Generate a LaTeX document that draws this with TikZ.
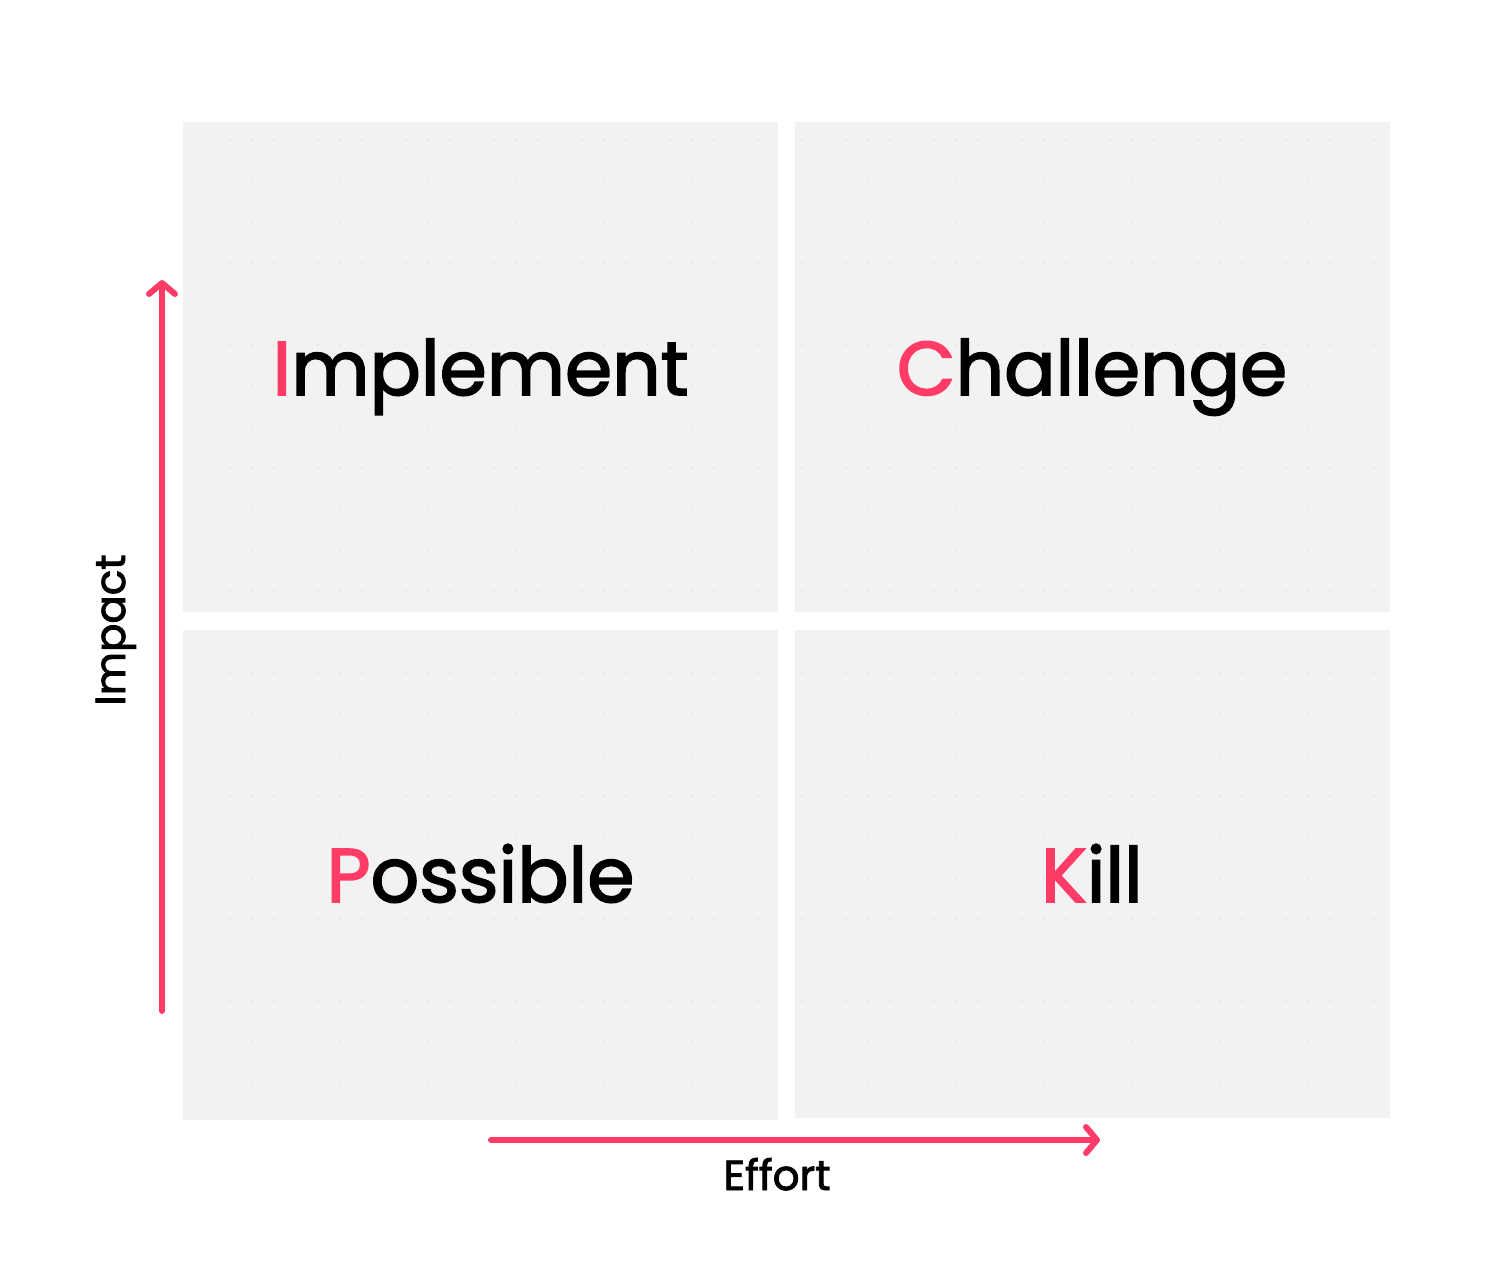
\documentclass[tikz,border=0pt]{standalone}
\usepackage{fontspec}
\setmainfont{Poppins}
\newfontfamily\qfont[FakeBold=2.2]{Poppins}
\newfontfamily\afont[FakeBold=2]{Poppins}
\usetikzlibrary{arrows.meta}
\definecolor{pinkc}{HTML}{FF3B66}
\definecolor{boxc}{HTML}{F2F2F2}
\definecolor{dotc}{HTML}{E6D6DA}
\tikzset{
  quad/.style={fill=boxc, draw=none},
  axisarrow/.style={draw=pinkc, line width=6pt, line cap=round, -{Straight Barb[length=11pt, width=26pt, line width=6pt, round]}},
  qlabel/.style={font=\qfont\fontsize{76}{90}\selectfont, text=black, inner sep=0pt, anchor=base},
  alabel/.style={font=\afont\fontsize{42}{48}\selectfont, text=black, inner sep=0pt, anchor=base}
}
\begin{document}
\begin{tikzpicture}[x=1pt,y=-1pt]
\useasboundingbox (0,0) rectangle (1496,1272);
\fill[white] (0,0) rectangle (1496,1272);
% quadrants
\path[quad] (183,122) rectangle (778,612);
\path[quad] (795,122) rectangle (1390,612);
\path[quad] (183,630) rectangle (778,1120);
\path[quad] (795,630) rectangle (1390,1118);
% faint dots
\foreach \x in {208,230,...,1380} {
  \foreach \y in {140,181,...,1110} {
    \fill[dotc] (\x,\y) circle (0.8);
  }
}
\path[fill=white] (778,100) rectangle (795,1130);
\path[fill=white] (170,612) rectangle (1400,630);
% labels
\node[qlabel] (impl) at (480.5,395) {\textcolor{pinkc}{I}mplement};
\node[qlabel] (chal) at (1092,395) {\textcolor{pinkc}{C}hallenge};
\node[qlabel] (poss) at (480.5,902) {\textcolor{pinkc}{P}ossible};
\node[qlabel] (kill) at (1092,902) {\textcolor{pinkc}{K}ill};
% axes
\coordinate (ybot) at (162,1011);
\coordinate (ytop) at (162,280);
\coordinate (xl) at (491,1140);
\coordinate (xr) at (1100,1140);
\draw[axisarrow] (ybot) -- (ytop);
\draw[axisarrow] (xl) -- (xr);
\node[alabel] (effort) at (777,1190) {Effort};
\node[alabel, rotate=90] (impact) at (125,630) {Impact};
\end{tikzpicture}
\end{document}
